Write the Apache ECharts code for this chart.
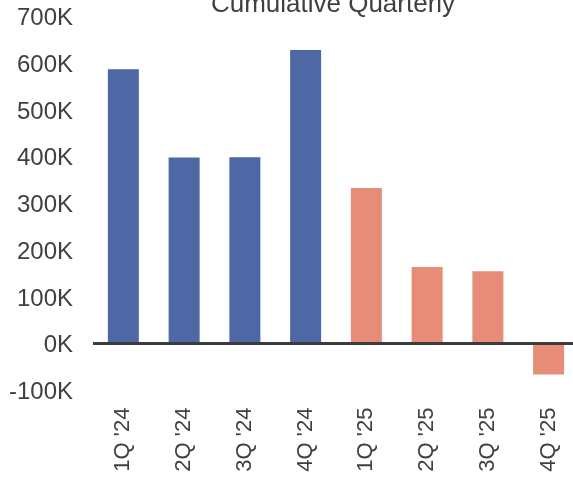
<!DOCTYPE html>
<html>
<head>
<meta charset="utf-8">
<script src="https://cdn.jsdelivr.net/npm/echarts@6/dist/echarts.min.js"></script>
<style>
  html, body { margin: 0; padding: 0; background: #ffffff; }
  #chart { width: 573px; height: 478px; }
</style>
</head>
<body>
<div id="chart"></div>
<script>
// quarters and cumulative values (in thousands)
const quarters = ["1Q '24", "2Q '24", "3Q '24", "4Q '24", "1Q '25", "2Q '25", "3Q '25", "4Q '25"]
const cumulativeK = [585, 396, 397, 626, 331, 162, 153, -68]
const yTicksK = [-100, 0, 100, 200, 300, 400, 500, 600, 700]

const FONT = '"Liberation Sans", Arial, sans-serif'
const TEXT = '#404040'

const chart = echarts.init(document.getElementById('chart'))

const option = {
  backgroundColor: '#ffffff',
  animation: false,
  title: {
    text: 'Cumulative Quarterly',
    left: 328,
    textAlign: 'center',
    top: -13,
    textStyle: {
      fontFamily: FONT,
      fontSize: 26,
      fontWeight: 'normal',
      color: TEXT
    }
  },
  // plot runs past the right edge, like the original
  grid: {
    left: 93,
    top: 15.5,
    width: 486,
    height: 374,
    outerBoundsMode: 'none'
  },
  xAxis: {
    type: 'category',
    data: quarters,
    axisLine: { show: false },
    axisTick: { show: false },
    axisLabel: {
      rotate: 90,
      margin: 18,
      interval: 0,
      fontFamily: FONT,
      fontSize: 22,
      color: TEXT
    }
  },
  yAxis: {
    type: 'value',
    min: yTicksK[0] * 1000,
    max: yTicksK[yTicksK.length - 1] * 1000,
    interval: 100000,
    axisLine: { show: false },
    axisTick: { show: false },
    splitLine: { show: false },
    axisLabel: {
      margin: 20,
      color: TEXT,
      // labels sit a little below their tick in the original
      formatter: v => '{k|' + (v / 1000) + 'K}',
      rich: {
        k: {
          fontFamily: FONT,
          fontSize: 24,
          color: TEXT,
          padding: [6, 0, 0, 0]
        }
      }
    }
  },
  series: [{
    type: 'bar',
    barWidth: 31,
    data: cumulativeK.map((v, i) => ({
      value: v * 1000,
      itemStyle: { color: quarters[i].includes("'24") ? '#4E67A5' : '#E68C77' }
    })),
    markLine: {
      silent: true,
      symbol: 'none',
      label: { show: false },
      lineStyle: { color: '#3c3c3c', width: 3, type: 'solid' },
      data: [{ yAxis: 0 }]
    }
  }]
}

chart.setOption(option)
</script>
</body>
</html>
